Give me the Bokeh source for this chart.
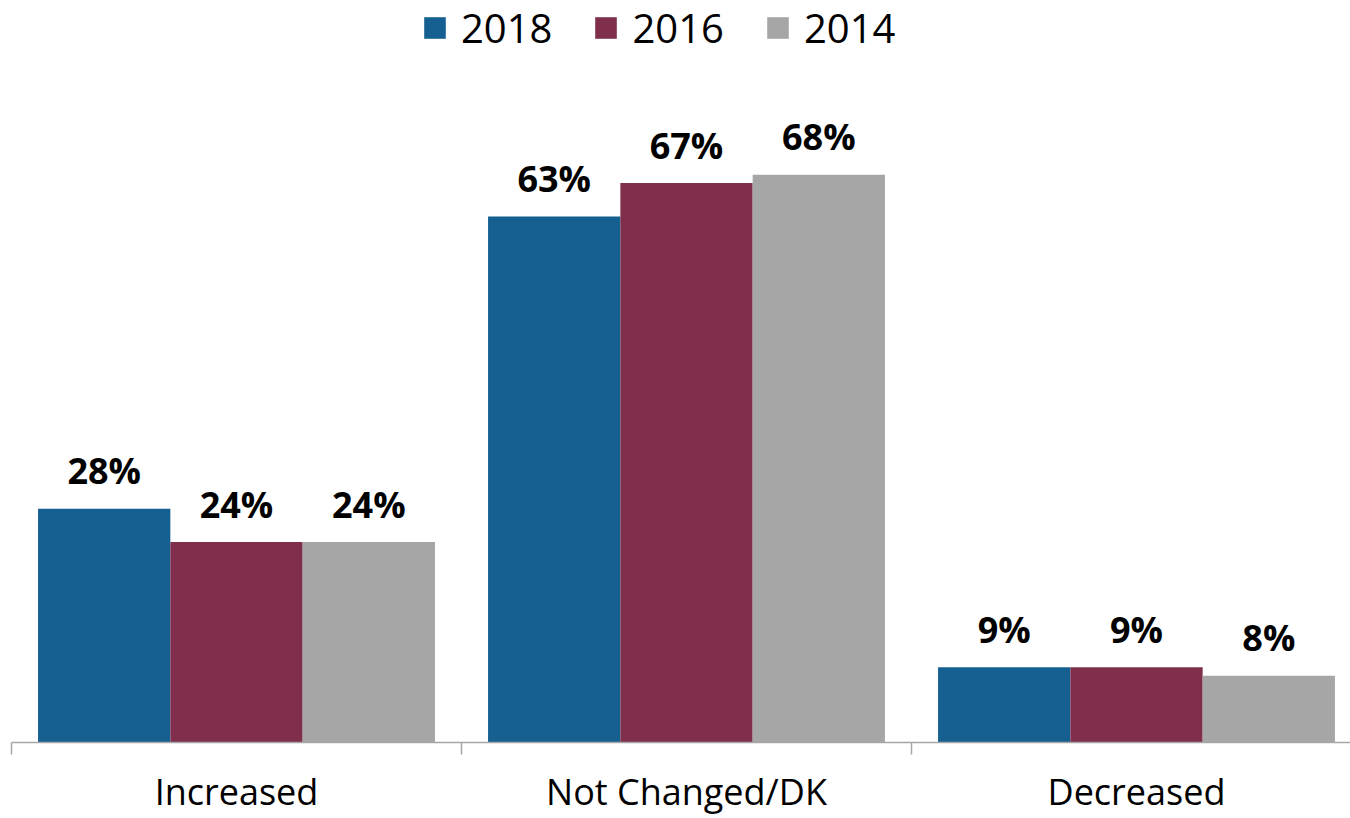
from bokeh.plotting import figure
from bokeh.models import ColumnDataSource, Range1d, FixedTicker, Legend
from bokeh.transform import dodge
from bokeh.core.properties import value
from bokeh.embed import file_html
from bokeh.resources import INLINE

categories = ["Increased", "Not Changed/DK", "Decreased"]
years = ["2018", "2016", "2014"]
v2018 = [28, 63, 9]
v2016 = [24, 67, 9]
v2014 = [24, 68, 8]
colors = ["#156090", "#7F2F4C", "#A6A6A6"]

xs = [i + 0.5 for i in range(len(categories))]
src = ColumnDataSource(dict(
    x=xs, v2018=v2018, v2016=v2016, v2014=v2014,
    t2018=[f"{v}%" for v in v2018],
    t2016=[f"{v}%" for v in v2016],
    t2014=[f"{v}%" for v in v2014],
))

W, H = 1350, 818
p = figure(width=W, height=H, output_backend="svg", toolbar_location=None,
           x_range=Range1d(0, 1339 / 450), y_range=Range1d(0, 742 / 8.35),
           min_border_left=11, min_border_right=0, min_border_top=0, min_border_bottom=76)
p.outline_line_color = None
p.xgrid.visible = False
p.ygrid.visible = False
p.yaxis.visible = False
p.background_fill_color = "white"
p.border_fill_color = "white"

bw = 0.294
offs = [-bw, 0.0, bw]
renderers = []
for yr, off, col in zip(years, offs, colors):
    r = p.vbar(x=dodge("x", off, range=p.x_range), top="v" + yr, width=bw, bottom=0,
               source=src, fill_color=col, line_color=None)
    renderers.append((yr, r))
    p.text(x=dodge("x", off, range=p.x_range), y="v" + yr, text="t" + yr, source=src,
           text_align="center", text_baseline="alphabetic", y_offset=-38,
           text_font=value("Open Sans"), text_font_style="bold",
           text_font_size="36px", text_color="black")

ax = p.xaxis[0]
ax.ticker = FixedTicker(ticks=xs, minor_ticks=[0, 1, 2, 3])
ax.major_label_overrides = {x: c for x, c in zip(xs, categories)}
ax.major_tick_out = 0
ax.major_tick_in = 0
ax.minor_tick_out = 12
ax.minor_tick_in = 0
ax.axis_line_color = "#A6A6A6"
ax.axis_line_width = 1.5
ax.minor_tick_line_color = "#A6A6A6"
ax.minor_tick_line_width = 1.5
ax.major_label_text_font = "Open Sans"
ax.major_label_text_font_size = "36px"
ax.major_label_text_color = "black"
ax.major_label_standoff = 12

legend = Legend(items=[(yr, [r]) for yr, r in renderers], orientation="horizontal",
                location=(410, 687))
legend.glyph_width = 27
legend.glyph_height = 27
legend.label_standoff = 13
legend.spacing = 40
legend.padding = 0
legend.margin = 0
legend.border_line_color = None
legend.background_fill_alpha = 0
legend.label_text_font = "Open Sans"
legend.label_text_font_size = "40px"
legend.label_text_color = "black"
p.add_layout(legend)

open("out.html", "w").write(file_html(p, INLINE))
